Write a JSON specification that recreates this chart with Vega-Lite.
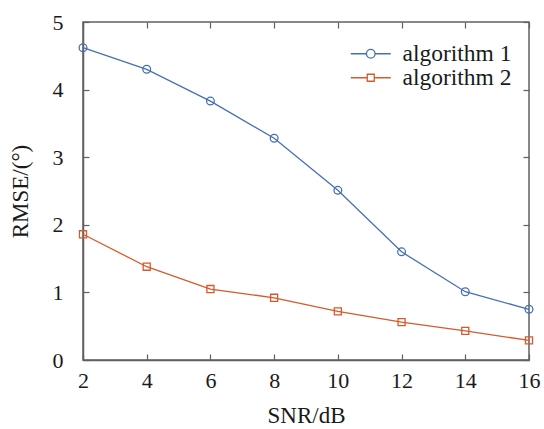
{
  "$schema": "https://vega.github.io/schema/vega-lite/v6.json",
  "width": 446,
  "height": 338,
  "autosize": "none",
  "padding": {"left": 83, "top": 22, "right": 15, "bottom": 69},
  "background": "white",
  "config": {
    "view": {"stroke": "#606060", "strokeWidth": 1.5},
    "font": "Times New Roman, Liberation Serif, serif",
    "axis": {
      "grid": false,
      "domainColor": "#606060",
      "domainWidth": 1.5,
      "tickColor": "#606060",
      "tickWidth": 1.2,
      "tickSize": -6,
      "labelFont": "Times New Roman, Liberation Serif, serif",
      "labelFontSize": 22,
      "labelColor": "#1a1a1a",
      "titleFont": "Times New Roman, Liberation Serif, serif",
      "titleFontSize": 23,
      "titleFontWeight": "normal",
      "titleColor": "#1a1a1a"
    }
  },
  "data": {
    "values": [
      {"snr": 2, "rmse": 4.62, "alg": "algorithm 1"},
      {"snr": 4, "rmse": 4.30, "alg": "algorithm 1"},
      {"snr": 6, "rmse": 3.83, "alg": "algorithm 1"},
      {"snr": 8, "rmse": 3.28, "alg": "algorithm 1"},
      {"snr": 10, "rmse": 2.51, "alg": "algorithm 1"},
      {"snr": 12, "rmse": 1.60, "alg": "algorithm 1"},
      {"snr": 14, "rmse": 1.01, "alg": "algorithm 1"},
      {"snr": 16, "rmse": 0.75, "alg": "algorithm 1"},
      {"snr": 2, "rmse": 1.86, "alg": "algorithm 2"},
      {"snr": 4, "rmse": 1.38, "alg": "algorithm 2"},
      {"snr": 6, "rmse": 1.05, "alg": "algorithm 2"},
      {"snr": 8, "rmse": 0.92, "alg": "algorithm 2"},
      {"snr": 10, "rmse": 0.72, "alg": "algorithm 2"},
      {"snr": 12, "rmse": 0.56, "alg": "algorithm 2"},
      {"snr": 14, "rmse": 0.43, "alg": "algorithm 2"},
      {"snr": 16, "rmse": 0.29, "alg": "algorithm 2"}
    ]
  },
  "layer": [
    {
      "mark": {"type": "line", "strokeWidth": 1.3, "clip": false},
      "encoding": {
        "x": {
          "field": "snr", "type": "quantitative",
          "scale": {"domain": [2, 16], "nice": false},
          "axis": {"orient": "bottom", "values": [2, 4, 6, 8, 10, 12, 14, 16], "title": "SNR/dB", "labelPadding": 16, "titlePadding": 13, "labelFlush": false}
        },
        "y": {
          "field": "rmse", "type": "quantitative",
          "scale": {"domain": [0, 5], "nice": false},
          "axis": {"orient": "left", "values": [0, 1, 2, 3, 4, 5], "title": "RMSE/(°)", "labelPadding": 26, "titlePadding": 20, "labelFlush": false}
        },
        "color": {
          "field": "alg", "type": "nominal",
          "scale": {"domain": ["algorithm 1", "algorithm 2"], "range": ["#4570b5", "#d55a2c"]},
          "legend": {
            "orient": "none",
            "legendX": 276,
            "legendY": 20,
            "title": null,
            "symbolSize": 100,
            "symbolStrokeWidth": 1.3,
            "labelFont": "Times New Roman, Liberation Serif, serif",
            "labelFontSize": 23.5,
            "labelColor": "#1a1a1a",
            "labelOffset": 20,
            "rowPadding": -2,
            "encode": {
              "symbols": {
                "update": {
                  "shape": {"signal": "datum.value === 'algorithm 1' ? 'M-4,0H-0.86M0.86,0H4M0.86,0A0.86,0.86,0,1,1,-0.86,0A0.86,0.86,0,1,1,0.86,0Z' : 'M-4,0H-0.7M0.7,0H4M-0.7,-0.7H0.7V0.7H-0.7Z'"}
                }
              }
            }
          }
        }
      }
    },
    {
      "transform": [{"filter": "datum.alg === 'algorithm 1'"}],
      "mark": {"type": "point", "shape": "circle", "filled": false, "strokeWidth": 1.3, "clip": false, "opacity": 1, "size": 60},
      "encoding": {
        "x": {
          "field": "snr", "type": "quantitative",
          "axis": {"orient": "top", "values": [2, 4, 6, 8, 10, 12, 14, 16], "labels": false, "domain": false, "title": null}
        },
        "y": {
          "field": "rmse", "type": "quantitative",
          "axis": {"orient": "right", "values": [0, 1, 2, 3, 4, 5], "labels": false, "domain": false, "title": null}
        },
        "color": {"field": "alg", "type": "nominal", "legend": null}
      }
    },
    {
      "transform": [{"filter": "datum.alg === 'algorithm 2'"}],
      "mark": {"type": "point", "shape": "square", "filled": false, "strokeWidth": 1.3, "clip": false, "opacity": 1, "size": 50},
      "encoding": {
        "x": {"field": "snr", "type": "quantitative", "axis": null},
        "y": {"field": "rmse", "type": "quantitative", "axis": null},
        "color": {"field": "alg", "type": "nominal", "legend": null}
      }
    }
  ],
  "resolve": {"axis": {"x": "independent", "y": "independent"}}
}
